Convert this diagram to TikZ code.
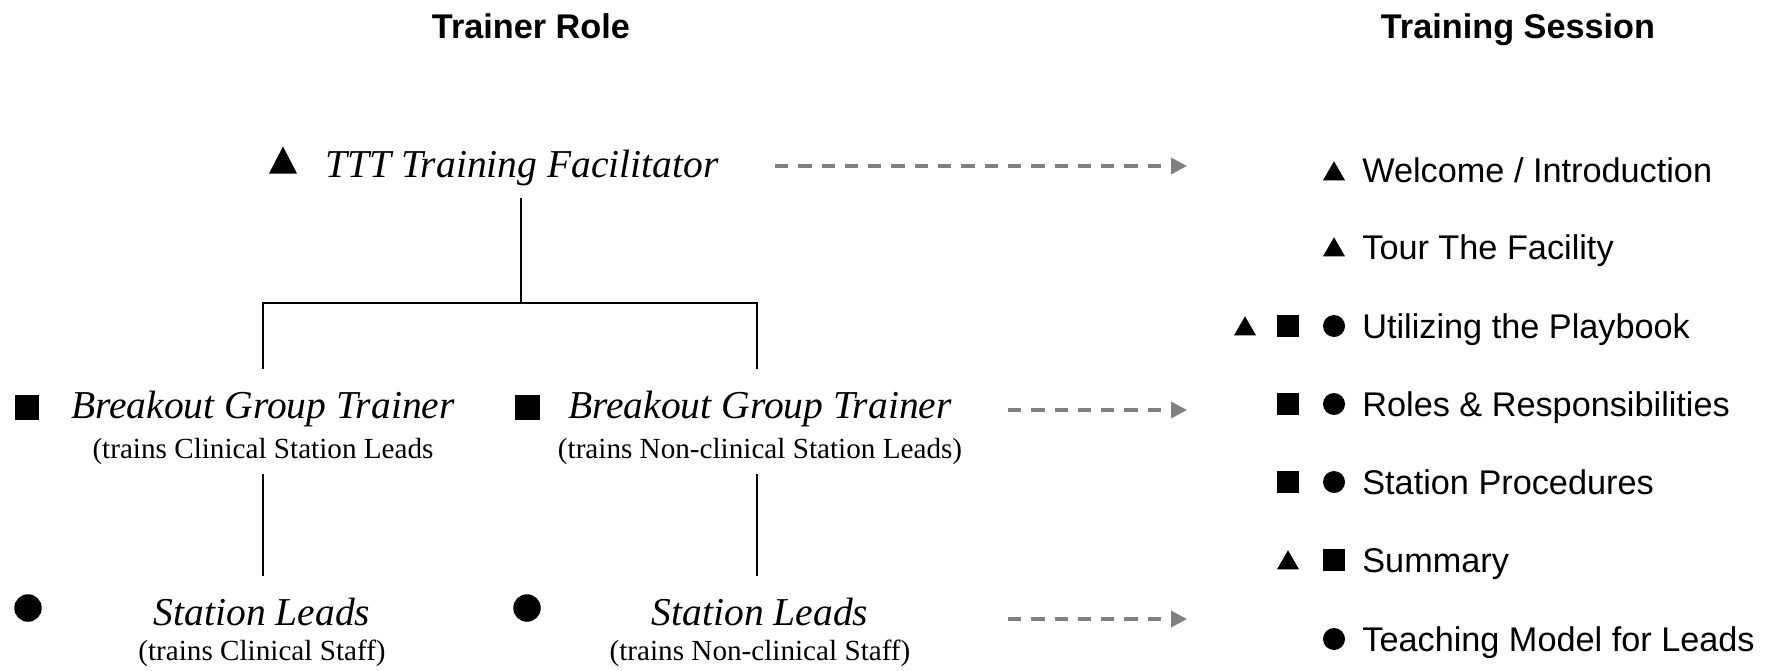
\documentclass[tikz,border=0pt]{standalone}
\usepackage{fontspec}
\setmainfont{Liberation Serif}
\newfontfamily\sansf{Liberation Sans}
\usetikzlibrary{arrows.meta,shapes.geometric}
\definecolor{flowgray}{RGB}{128,128,128}
\begin{document}
\begin{tikzpicture}[x=0.02cm,y=-0.02cm,
  head/.style={font=\sansf\bfseries\fontsize{19.5}{23}\selectfont, anchor=base, inner sep=0},
  role/.style={font=\itshape\fontsize{22.5}{27}\selectfont, anchor=base, inner sep=0},
  rolesub/.style={font=\fontsize{16.6}{20}\selectfont, anchor=base, inner sep=0},
  item/.style={font=\sansf\fontsize{19.5}{23}\selectfont, anchor=base west, inner sep=0},
  trimark/.style={regular polygon, regular polygon sides=3, fill=black, draw=none, inner sep=0, minimum size=#1},
  bigtri/.style={isosceles triangle, isosceles triangle stretches, shape border rotate=90,
    fill=black, draw=none, inner sep=0, outer sep=0, minimum width=0.56cm, minimum height=0.54cm},
  sqmark/.style={rectangle, fill=black, draw=none, inner sep=0, minimum size=#1},
  dotmark/.style={circle, fill=black, draw=none, inner sep=0, minimum size=#1},
  link/.style={line width=1pt, black},
  flow/.style={line width=2pt, flowgray, dash pattern=on 0.266cm off 0.2cm,
    -{Triangle[length=0.32cm,width=0.32cm]}},
]
\useasboundingbox (0,0) rectangle (1771,670);

% column headings
\node[head] (hrole) at (531,38) {Trainer Role};
\node[head] (hsess) at (1518,38) {Training Session};

% trainer hierarchy
\node[role, anchor=base west] (ttt) at (325,177) {TTT Training Facilitator};
\node[bigtri] (tttm) at (283,165) {};

\node[role] (bg1) at (263,418) {Breakout Group Trainer};
\node[rolesub] (bg1s) at (263,458) {(trains Clinical Station Leads};
\node[sqmark=0.5cm] (bg1m) at (27,407) {};

\node[role] (bg2) at (760,418) {Breakout Group Trainer};
\node[rolesub] (bg2s) at (760,458) {(trains Non-clinical Station Leads)};
\node[sqmark=0.5cm] (bg2m) at (527,407) {};

\node[role] (sl1) at (262,625) {Station Leads};
\node[rolesub] (sl1s) at (262,660) {(trains Clinical Staff)};
\node[dotmark=0.55cm] (sl1m) at (28,608) {};

\node[role] (sl2) at (760,625) {Station Leads};
\node[rolesub] (sl2s) at (760,660) {(trains Non-clinical Staff)};
\node[dotmark=0.55cm] (sl2m) at (527,608) {};

% tree connectors
\coordinate (tttfoot) at (521,198);
\coordinate (busM) at (521,303);
\coordinate (busL) at (263,303);
\coordinate (busR) at (757,303);
\coordinate (b1top) at (263,369);
\coordinate (b2top) at (757,369);
\coordinate (b1foot) at (263,474);
\coordinate (b2foot) at (757,474);
\coordinate (s1top) at (263,576);
\coordinate (s2top) at (757,576);
\draw[link] (tttfoot) -- (busM);
\draw[link] (b1top) -- (busL) -- (busR) -- (b2top);
\draw[link] (b1foot) -- (s1top);
\draw[link] (b2foot) -- (s2top);

% session agenda
\node[item] (i1) at (1362,182) {Welcome / Introduction};
\node[item] (i2) at (1362,259) {Tour The Facility};
\node[item] (i3) at (1362,338) {Utilizing the Playbook};
\node[item] (i4) at (1362,416) {Roles \& Responsibilities};
\node[item] (i5) at (1362,494) {Station Procedures};
\node[item] (i6) at (1362,572) {Summary};
\node[item] (i7) at (1362,651) {Teaching Model for Leads};

\node[trimark=0.51cm] (i1a) at (1334,174) {};
\node[trimark=0.51cm] (i2a) at (1334,250) {};
\node[trimark=0.51cm] (i3c) at (1245,329) {};
\node[sqmark=0.44cm]  (i3b) at (1288,326) {};
\node[dotmark=0.44cm] (i3a) at (1334,326) {};
\node[sqmark=0.44cm]  (i4b) at (1288,404) {};
\node[dotmark=0.44cm] (i4a) at (1334,404) {};
\node[sqmark=0.44cm]  (i5b) at (1288,482) {};
\node[dotmark=0.44cm] (i5a) at (1334,482) {};
\node[trimark=0.51cm] (i6b) at (1288,563) {};
\node[sqmark=0.44cm]  (i6a) at (1334,560) {};
\node[dotmark=0.44cm] (i7a) at (1334,639) {};

% role-to-session arrows
\coordinate (f1s) at (775,166);
\coordinate (f1e) at (1187,166);
\coordinate (f2s) at (1008,410);
\coordinate (f2e) at (1187,410);
\coordinate (f3s) at (1008,619);
\coordinate (f3e) at (1187,619);
\draw[flow] (f1s) -- (f1e);
\draw[flow] (f2s) -- (f2e);
\draw[flow] (f3s) -- (f3e);
\end{tikzpicture}
\end{document}
